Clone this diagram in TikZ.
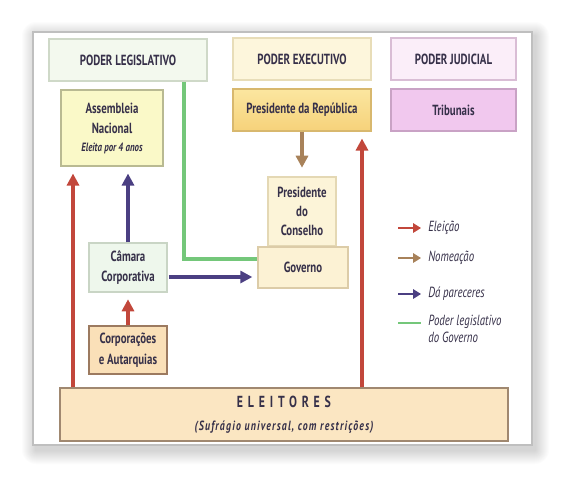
\documentclass[tikz,border=0pt]{standalone}
\usepackage{fontspec}
\setmainfont{PT Sans}[FakeStretch=0.74]
\usetikzlibrary{arrows.meta,calc}
\definecolor{txt}{HTML}{363049}
\definecolor{cred}{HTML}{C2473B}
\definecolor{cbrown}{HTML}{A8825A}
\definecolor{cpurple}{HTML}{4B3F82}
\definecolor{cgreen}{HTML}{74C77A}
\definecolor{fLeg}{HTML}{F3F9EE}\definecolor{dLeg}{HTML}{CFD9C8}
\definecolor{fExe}{HTML}{FDF6DC}\definecolor{dExe}{HTML}{E8DDB8}
\definecolor{fJud}{HTML}{FBEEF9}\definecolor{dJud}{HTML}{D9BDD5}
\definecolor{fPrT}{HTML}{FBE6A0}\definecolor{fPrB}{HTML}{F6D27A}\definecolor{dPr}{HTML}{D8B86E}
\definecolor{fTri}{HTML}{F1C8EE}\definecolor{dTri}{HTML}{C9A2C5}
\definecolor{fAss}{HTML}{FAF9C8}\definecolor{dAss}{HTML}{B9BA92}
\definecolor{fCon}{HTML}{FCF4D8}\definecolor{dCon}{HTML}{E4D8B4}
\definecolor{fGov}{HTML}{FCF2D4}\definecolor{dGov}{HTML}{DCCCA8}
\definecolor{fCam}{HTML}{EEF7EC}\definecolor{dCam}{HTML}{C9D5C5}
\definecolor{fCor}{HTML}{FAE0B8}\definecolor{dCor}{HTML}{9C7A60}
\definecolor{fEle}{HTML}{FBE6C2}\definecolor{dEle}{HTML}{A08870}
\tikzset{
  bx/.style 2 args={minimum width=#1*0.75pt, minimum height=#2*0.75pt},
  box/.style={draw, line width=0.9pt, text=txt, align=center, inner sep=0pt,
    font=\fontsize{11}{14}\selectfont\bfseries},
  arr/.style={line width=2.4pt, -{Triangle[length=9pt,width=9pt]}},
  legarr/.style={line width=1.9pt, -{Triangle[length=6pt,width=7pt]}, shorten >=5.2pt},
  legtxt/.style={inner sep=0pt, text=txt, font=\fontsize{11}{13}\selectfont\itshape, align=left},
}
\begin{document}
\begin{tikzpicture}[x=0.75pt,y=-0.75pt]
\useasboundingbox (0,0) rectangle (565,480);
\fill[white] (0,0) rectangle (565,480);
% card shadow
\foreach \k in {1,...,14}{
  \fill[black!60, opacity=0.02, rounded corners=\k*0.75pt]
    (33-\k+3,32-\k+4) rectangle (532+\k+3,445+\k+5);
}
\filldraw[fill=white, draw=black!25, line width=1.4pt] (33,32) rectangle (532,445);

% boxes
\node[box, bx={158}{42}, fill=fLeg, draw=dLeg] (legis) at (128,60) {PODER LEGISLATIVO};
\node[box, bx={138}{42}, fill=fExe, draw=dExe] (exec) at (302,59) {PODER EXECUTIVO};
\node[box, bx={125}{42}, fill=fJud, draw=dJud] (jud) at (453.5,59) {PODER JUDICIAL};
\node[box, bx={138}{42}, top color=fPrT, bottom color=fPrB, draw=dPr] (presrep) at (302,110) {Presidente da República};
\node[box, bx={125}{42}, fill=fTri, draw=dTri] (trib) at (453.5,110) {Tribunais};
\node[box, bx={102}{76}, fill=fAss, draw=dAss, font=\fontsize{11}{15}\selectfont\bfseries] (assemb) at (112,128)
  {Assembleia\\Nacional\\[-1.5pt]{\fontsize{9}{10}\selectfont\itshape Eleita por 4 anos}};
\node[box, bx={68}{69}, fill=fCon, draw=dCon, font=\fontsize{11}{14}\selectfont\bfseries] (prescons) at (302,211.5) {Presidente\\do\\Conselho};
\node[box, bx={90}{41}, fill=fGov, draw=dGov] (governo) at (303,267.5) {Governo};
\node[box, bx={78}{49}, fill=fCam, draw=dCam, font=\fontsize{11}{15}\selectfont\bfseries] (camara) at (128,267.5) {Câmara\\Corporativa};
\node[box, bx={78}{48}, fill=fCor, draw=dCor, font=\fontsize{11}{15.5}\selectfont\bfseries] (corp) at (128,350) {Corporações\\e Autarquias};
\node[box, bx={448}{53}, fill=fEle, draw=dEle, font=\fontsize{10}{17}\selectfont\bfseries] (eleit) at (284,414.5)
  {{\addfontfeature{LetterSpace=30}\fontsize{12}{17}\selectfont ELEITORES}\\
   {\addfontfeature{LetterSpace=9}\fontsize{10}{11}\selectfont\bfseries\itshape (Sufrágio universal, com restrições)}};

% helper coordinates
\coordinate (xr1) at (73,0);
\coordinate (xr3) at (362,0);
\coordinate (xg) at (184,0);
\coordinate (yg) at (0,259);
\coordinate (yp) at (0,277);

% connectors
\draw[arr, cred, shorten >=5.2pt] (eleit.north -| xr1) -- (assemb.south -| xr1);
\draw[arr, cred, shorten >=5.2pt] (eleit.north -| xr3) -- (presrep.south -| xr3);
\draw[arr, cred, shorten >=5pt] (corp.north) -- (camara.south);
\draw[arr, cpurple, shorten >=5.2pt] (camara.north) -- (camara.north |- assemb.south);
\draw[arr, cpurple, shorten >=3.8pt, shorten <=1pt] (camara.east |- yp) -- (governo.west |- yp);
\draw[arr, cbrown, shorten >=6.5pt] (presrep.south -| prescons.north) -- (prescons.north);
\draw[cgreen, line width=2.4pt] (legis.south -| xg) |- (governo.west |- yg);

% legend
\node[legtxt, anchor=west] (l1) at (428,228) {Eleição};
\node[legtxt, anchor=west] (l2) at (428,258) {Nomeação};
\node[legtxt, anchor=west] (l3) at (428,294) {Dá pareceres};
\node[legtxt, anchor=north west] (l4) at (428,315) {Poder legislativo\\do Governo};
\coordinate (s1) at (398,228);
\coordinate (s2) at (398,258);
\coordinate (s3) at (398,294);
\coordinate (s4) at (398,323);
\coordinate (e4) at (421,323);
\draw[legarr, cred] (s1) -- (l1.west);
\draw[legarr, cbrown] (s2) -- (l2.west);
\draw[legarr, cpurple] (s3) -- (l3.west);
\draw[cgreen, line width=1.9pt] (s4) -- (e4);
\end{tikzpicture}
\end{document}
